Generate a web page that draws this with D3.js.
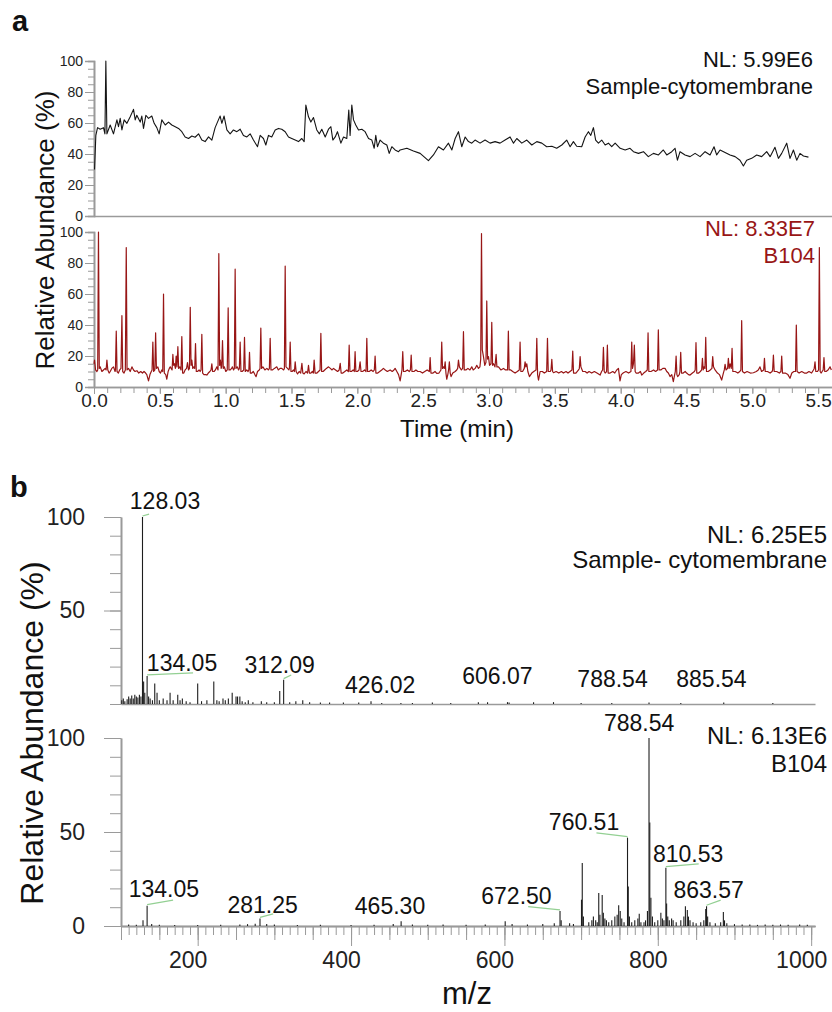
<!DOCTYPE html>
<html>
<head>
<meta charset="utf-8">
<script src="https://cdn.jsdelivr.net/npm/d3@7"></script>
<style>
  body { margin: 0; background: #fff; }
  text { font-family: "Liberation Sans", Arial, sans-serif; }
</style>
</head>
<body>
<svg id="fig" width="832" height="1012"></svg>
<script>

// ---- panel a : chromatograms, [time (min), relative abundance %] ----
let sampleTic = [
  [0.004,30],[0.014,52],[0.027,57],[0.047,56],[0.072,57],[0.083,53],[0.090,100],[0.098,53],[0.123,58.7],[0.148,53],
  [0.174,62],[0.186,57.6],[0.199,63],[0.212,55.5],[0.229,62],[0.250,59.8],[0.275,64],[0.300,68.8],[0.313,62],[0.325,65],
  [0.351,60.6],[0.363,64.5],[0.376,56.5],[0.394,65],[0.414,63],[0.439,64.5],[0.457,59.8],[0.477,57],[0.495,53],[0.515,62],
  [0.541,58.7],[0.566,60.6],[0.591,58.7],[0.617,57.6],[0.642,56.5],[0.667,54.4],[0.692,51],[0.718,50],[0.743,51.6],[0.768,50.8],
  [0.794,53],[0.819,49],[0.844,48],[0.870,51],[0.895,49],[0.920,57],[0.945,62],[0.958,64.5],[0.971,59.8],[0.988,64.5],
  [1.009,55.5],[1.034,53],[1.059,55.5],[1.085,54.4],[1.110,56],[1.135,52],[1.161,51],[1.186,53],[1.211,49],[1.242,44.7],
  [1.262,52],[1.287,50],[1.305,45.8],[1.325,52],[1.350,51],[1.376,55.5],[1.401,56.5],[1.426,56],[1.452,54.4],[1.477,51],
  [1.502,50],[1.528,49],[1.553,48],[1.578,50],[1.596,48],[1.609,71.6],[1.629,64],[1.647,60.6],[1.667,63.5],[1.692,55.5],
  [1.712,53],[1.730,56],[1.756,51],[1.781,56],[1.799,57.6],[1.814,49],[1.832,51],[1.849,54.4],[1.875,47],[1.895,51],
  [1.920,50],[1.935,68.4],[1.945,52],[1.958,71.6],[1.971,62],[1.988,58.7],[2.009,55.5],[2.034,56],[2.059,54.4],[2.085,50],
  [2.110,49],[2.128,43.7],[2.140,52],[2.153,44.7],[2.173,49],[2.198,47],[2.224,45.8],[2.242,40.4],[2.262,44.7],[2.287,42.6],
  [2.313,41.5],[2.325,42.6],[2.376,43.7],[2.426,42],[2.477,40.4],[2.540,35.7],[2.578,39.4],[2.616,44.7],[2.654,42.6],[2.692,47],
  [2.718,42.6],[2.743,50],[2.768,54.4],[2.793,44.7],[2.819,51],[2.844,48],[2.869,47],[2.894,49],[2.932,47],[2.970,49],
  [3.008,47],[3.046,48],[3.084,47],[3.122,49],[3.160,51],[3.186,47],[3.211,50],[3.249,47],[3.287,49],[3.325,45.8],
  [3.363,48],[3.401,47],[3.438,44.7],[3.477,45],[3.514,43.7],[3.553,45.8],[3.590,49],[3.616,44.7],[3.641,48],[3.666,45],
  [3.704,44.7],[3.730,51],[3.755,54.4],[3.773,52],[3.793,57],[3.810,49],[3.831,47],[3.856,49],[3.882,45.8],[3.907,47],
  [3.932,44.7],[3.958,47],[3.996,43.7],[4.034,42.6],[4.071,43.7],[4.097,41.5],[4.135,40.4],[4.173,41.5],[4.210,38.3],[4.249,40.4],
  [4.287,39.4],[4.324,42.6],[4.350,39.4],[4.388,41.5],[4.413,43.7],[4.431,36],[4.451,41.5],[4.489,39.4],[4.527,38.3],[4.565,40.4],
  [4.603,38.3],[4.641,41.5],[4.679,39.4],[4.709,44.7],[4.729,39.4],[4.755,42.6],[4.793,41],[4.831,39.4],[4.869,38.3],[4.906,36],
  [4.932,32.3],[4.957,36],[4.995,37.2],[5.033,39.4],[5.071,38.3],[5.109,41.5],[5.135,38.3],[5.172,44.3],[5.198,37.2],[5.223,40.4],
  [5.261,47],[5.286,37.2],[5.312,42.6],[5.337,36],[5.362,40.4],[5.388,38.7],[5.426,38]
];

let b104Tic = [
  [0.000,15],[0.004,17.4],[0.012,11],[0.022,10],[0.028,11],[0.034,100],[0.040,12],[0.047,13],[0.060,10],[0.072,11],
  [0.085,12],[0.092,11],[0.098,17.4],[0.105,11],[0.115,9],[0.123,10],[0.135,12],[0.148,13],[0.160,10],[0.163,11],
  [0.169,36],[0.175,10],[0.185,9],[0.195,11],[0.205,12],[0.212,46],[0.218,10],[0.228,9],[0.238,11],[0.245,90],
  [0.251,11],[0.262,12],[0.275,10],[0.288,13],[0.300,11],[0.312,10],[0.326,10.5],[0.340,9],[0.355,10],[0.368,9],
  [0.380,10],[0.392,9],[0.401,8],[0.414,4],[0.425,8],[0.435,10],[0.441,11],[0.447,29],[0.453,10],[0.462,11],
  [0.468,35],[0.474,12],[0.485,13],[0.495,10],[0.505,9],[0.515,11],[0.522,10],[0.528,60],[0.534,9],[0.545,8],
  [0.553,5],[0.563,10],[0.572,12],[0.579,13],[0.593,11],[0.599,21],[0.605,14],[0.611,15],[0.618,12],[0.624,20],
  [0.630,13],[0.637,26],[0.643,12],[0.652,13],[0.661,11],[0.667,32.5],[0.673,9],[0.682,9],[0.692,11],[0.703,12],
  [0.710,15.7],[0.718,11],[0.725,12],[0.731,51.4],[0.737,14],[0.743,17.4],[0.750,12],[0.758,13],[0.765,12],[0.771,28],
  [0.777,10],[0.786,10],[0.798,11],[0.806,10],[0.813,11],[0.819,34],[0.825,9],[0.835,8],[0.848,8],[0.857,7.7],
  [0.868,9],[0.880,10],[0.889,11],[0.895,15],[0.901,10],[0.912,10],[0.922,11],[0.933,13],[0.942,11],[0.948,86],
  [0.954,14],[0.960,17.4],[0.966,12],[0.970,13],[0.976,30],[0.982,12],[0.990,13],[1.001,10],[1.012,11],[1.019,51],
  [1.025,11],[1.035,11],[1.045,12],[1.051,13],[1.060,11],[1.066,12],[1.072,76],[1.078,12],[1.088,13],[1.098,11],
  [1.104,12],[1.110,29],[1.116,10],[1.125,10],[1.137,11],[1.143,32],[1.149,10],[1.160,11],[1.170,10],[1.176,11],
  [1.181,22.4],[1.187,9],[1.198,9],[1.210,10],[1.222,8],[1.231,6.7],[1.242,10],[1.255,11],[1.261,12],[1.267,38],
  [1.273,12],[1.283,13],[1.298,11],[1.313,12],[1.325,11],[1.332,12],[1.338,31.4],[1.344,11],[1.355,11],[1.370,12],
  [1.388,13],[1.400,11],[1.413,12],[1.426,12],[1.440,11],[1.446,12],[1.452,78],[1.458,13],[1.470,12],[1.480,11],
  [1.484,12],[1.490,29],[1.496,10],[1.505,10],[1.515,11],[1.522,10],[1.528,16.3],[1.535,10],[1.546,8.4],[1.558,10],
  [1.570,9],[1.579,15.3],[1.586,9],[1.596,8.4],[1.610,10],[1.622,9],[1.629,14],[1.636,9],[1.647,9],[1.658,10],
  [1.666,9],[1.672,17.4],[1.679,9],[1.693,9],[1.705,10],[1.717,11],[1.723,34.6],[1.729,10],[1.740,10],[1.752,11],
  [1.765,12],[1.781,13],[1.795,12],[1.808,11],[1.819,12],[1.835,11],[1.850,10],[1.862,11],[1.870,15.3],[1.877,9],
  [1.890,9],[1.905,10],[1.920,11],[1.932,10],[1.938,27],[1.944,10],[1.955,10],[1.968,11],[1.977,10],[1.983,22.8],
  [1.989,10],[2.000,10],[2.013,11],[2.021,16.3],[2.028,10],[2.040,10],[2.055,11],[2.066,10],[2.072,31.4],[2.078,10],
  [2.090,10],[2.105,11],[2.120,10],[2.129,11],[2.135,20],[2.141,9],[2.155,9],[2.170,10],[2.185,11],[2.198,12],
  [2.212,11],[2.228,10],[2.249,11],[2.265,10],[2.278,11],[2.287,12],[2.300,10],[2.313,8],[2.325,3.9],[2.333,8],
  [2.339,11],[2.345,22.8],[2.351,10],[2.363,10],[2.380,11],[2.395,10],[2.403,11],[2.409,20.6],[2.415,10],[2.430,10],
  [2.445,11],[2.460,10],[2.477,10],[2.495,9],[2.512,10],[2.530,11],[2.547,10],[2.553,19],[2.559,9],[2.575,9],
  [2.590,10],[2.603,8.8],[2.620,9],[2.635,11],[2.641,29],[2.647,12],[2.654,13],[2.661,12],[2.667,16.3],[2.673,9],
  [2.679,5],[2.687,8],[2.693,11],[2.699,16.3],[2.705,9],[2.712,6.7],[2.725,9],[2.743,10],[2.755,11],[2.762,12],
  [2.768,17.4],[2.775,13],[2.790,11],[2.800,12],[2.806,35.7],[2.812,11],[2.825,11],[2.840,12],[2.855,11],[2.869,13],
  [2.880,11],[2.895,12],[2.907,14],[2.920,12],[2.931,13],[2.937,18],[2.943,99],[2.949,24],[2.958,19.6],[2.968,14],
  [2.977,16],[2.983,55.5],[2.989,18],[2.996,19.6],[3.004,14],[3.015,15],[3.021,41.7],[3.027,14],[3.034,15],[3.045,13],
  [3.054,21],[3.060,13],[3.072,13],[3.090,11],[3.110,12],[3.125,11],[3.141,11],[3.147,36],[3.153,11],[3.165,11],
  [3.180,10],[3.198,9],[3.215,10],[3.230,11],[3.236,29],[3.242,10],[3.255,10],[3.268,12],[3.274,16.3],[3.280,13],
  [3.287,15],[3.295,10],[3.307,6.7],[3.325,9],[3.340,10],[3.357,11],[3.363,31.4],[3.369,8],[3.376,4.5],[3.388,10],
  [3.405,10],[3.420,9],[3.438,10],[3.444,31.4],[3.450,10],[3.465,10],[3.471,11],[3.477,17.8],[3.483,10],[3.490,9.2],
  [3.510,10],[3.530,9],[3.550,10],[3.565,9],[3.585,10],[3.600,9],[3.615,10],[3.630,11],[3.636,23.2],[3.642,9],
  [3.660,9],[3.680,11],[3.686,12],[3.692,19.6],[3.698,13],[3.712,10],[3.730,10],[3.745,9],[3.760,10],[3.780,9],
  [3.800,10],[3.820,9],[3.844,7.7],[3.855,10],[3.863,11],[3.869,25.6],[3.875,10],[3.882,9],[3.893,10],[3.899,27],
  [3.905,9],[3.920,9],[3.940,10],[3.955,9],[3.970,11],[3.983,12],[3.989,8],[3.995,4],[4.005,8],[4.021,9.2],
  [4.040,10],[4.060,9],[4.078,10],[4.084,29],[4.090,12],[4.097,15],[4.104,27],[4.110,10],[4.117,9],[4.135,9],
  [4.150,10],[4.160,7.7],[4.175,9],[4.190,10],[4.202,11],[4.208,35],[4.214,10],[4.230,10],[4.250,11],[4.265,10],
  [4.280,11],[4.286,36.8],[4.292,11],[4.305,11],[4.320,12],[4.337,12],[4.350,10],[4.362,9],[4.375,6.7],[4.388,8],
  [4.400,3.4],[4.410,8],[4.415,10],[4.421,20],[4.427,8],[4.433,6.7],[4.445,8],[4.450,10],[4.456,22.4],[4.462,9],
  [4.475,9],[4.490,10],[4.501,9],[4.515,8],[4.527,7.7],[4.545,9],[4.560,10],[4.566,11],[4.572,28.6],[4.578,9],
  [4.592,9],[4.605,10],[4.615,11],[4.621,18.5],[4.627,11],[4.633,13],[4.640,12],[4.646,32],[4.652,10],[4.665,10],
  [4.680,11],[4.693,12],[4.699,19.6],[4.705,13],[4.717,11],[4.735,9],[4.750,8],[4.767,4.5],[4.780,9],[4.787,11],
  [4.793,14.6],[4.800,11],[4.812,12],[4.818,18.5],[4.824,12],[4.831,15],[4.840,12],[4.846,25],[4.852,10],[4.870,10],
  [4.890,9],[4.905,10],[4.913,11],[4.919,42.8],[4.925,10],[4.940,9],[4.960,10],[4.985,9],[5.008,9.2],[5.030,10],
  [5.045,11],[5.058,13],[5.070,10],[5.086,11],[5.092,18.5],[5.098,10],[5.115,10],[5.135,9],[5.150,10],[5.154,11],
  [5.160,20.6],[5.166,10],[5.185,10],[5.205,9],[5.217,10],[5.223,20],[5.229,9],[5.250,9],[5.270,8],[5.286,5.6],
  [5.300,9],[5.315,10],[5.328,10],[5.334,40],[5.340,10],[5.355,9],[5.375,10],[5.395,9],[5.413,9],[5.430,10],
  [5.450,9],[5.464,11],[5.470,12],[5.476,16.3],[5.482,10],[5.495,10],[5.503,11],[5.509,90],[5.515,10],[5.522,9],
  [5.530,10],[5.538,11],[5.544,19],[5.550,10],[5.560,10],[5.575,11],[5.590,13],[5.600,11]
];

let timeTicks = [0.0, 0.5, 1.0, 1.5, 2.0, 2.5, 3.0, 3.5, 4.0, 4.5, 5.0, 5.5];
let pctTicksA = [0, 20, 40, 60, 80, 100];

// ---- panel b : mass spectra, [m/z, relative abundance %] ----
let sampleMs = [
  [101,2],[103,3],[105,1.5],[108,2.5],[110,4],[112,3],[114,4.5],[116,3],[118,5],[120,4],[122,3.5],[124,5],[126,4],
  [128.03,100],[129.5,12],[131,6],[134.05,15],[136,4],[138,3],[141,2],[144,11],[147,6],[150,2],[155,3],[160,2],
  [164,6],[168,2],[174,5],[177,2],[180,3],[185,1.5],[190,1],[200,11],[205,1.5],[212,2],[221,12],[225,2],[228,1.5],
  [233,3],[236,2],[240,3],[245,6],[250,4],[252,4],[255,4],[258,1.5],[262,1],[266,2],[272,1],[283,1.5],[290,1],
  [300,1],[307,7],[312.09,13],[320,1],[328,1.5],[337,2],[346,1],[360,0.8],[372,0.8],[390,0.8],[410,0.8],[426.02,1.5],
  [440,0.6],[465,0.6],[480,0.6],[506,0.8],[530,0.6],[566,1],[578,1],[604,1],[606.07,0.8],[638,1],[664,1],[700,0.5],
  [740,0.5],[788.54,0.8],[830,0.5],[886,0.8],[950,0.5]
];

let b104Ms = [
  [110,0.8],[120,0.6],[128.7,3],[134.05,10.8],[140,1],[150,0.6],[170,0.5],[200,0.5],[230,0.6],[255,0.8],[265,1],
  [275,1.2],[281.25,4],[290,1],[300,0.8],[330,0.5],[360,0.6],[400,0.5],[430,0.6],[455,1],[465.30,2.5],[480,0.8],
  [500,0.6],[520,0.8],[550,0.6],[575,0.8],[601,2.5],[610,1],[630,0.8],[650,1],[665,1.5],[672.50,8],[674,3],[685,1.5],
  [690,1],[700.5,14],[701.5,33.5],[703,5],[710,2],[714,3],[716,5],[719,3],[721,2],[723,17.5],[724.5,6],[727.5,16.5],
  [729,7],[731,4],[733,3],[736,2],[740,3],[744,5],[747,6],[749,11],[751,8],[753,4],[756,2],[760.51,47],[761.5,21],
  [763,5],[766,2],[770,3],[774,4],[775.8,6.5],[778,2],[782,2],[784,3],[786.5,8],[788.54,100],[789.55,55],[791,15],
  [793,5],[796,2],[800,3],[804,7],[806,4],[808,3],[810.53,31],[811.5,12],[813,5],[815,3],[818,4],[820,3],[824,2],
  [830,3],[834,5],[836,10.5],[838.5,8.5],[840,5],[842,3],[846,2],[850,1.5],[856,2],[860,3],[862.5,9],[863.57,10.5],
  [865,5],[868,2],[875,1.5],[882,2],[885.5,7.5],[887,3],[890,1.5],[900,1],[910,0.8],[920,0.8],[930,0.6],[940,0.8],
  [950,0.6],[960,0.8],[970,0.6],[985,0.8],[995,0.6]
];

let mzTicks = [200, 400, 600, 800, 1000];

// peak labels : text, peak m/z, label anchor [m/z, %], leader end [m/z, %] (null = no leader)
let sampleLabels = [
  ["128.03", 128.03, [157.4, 104.3], [136.6, 101.6]],
  ["134.05", 134.05, [179.6, 17.6], [194.0, 16.6]],
  ["312.09", 312.09, [306.9, 16.7], [322.0, 15.5]],
  ["426.02", 426.02, [438.0, 5.9], null],
  ["606.07", 606.07, [590.9, 10.7], null],
  ["788.54", 788.54, [741.0, 9.3], null],
  ["885.54", 885.54, [870.0, 9.3], null]
];
let b104Labels = [
  ["134.05", 134.05, [156.0, 15.4], [167.9, 13.8]],
  ["281.25", 281.25, [284.7, 6.9], [298.4, 6.4]],
  ["465.30", 465.30, [450.8, 6.4], null],
  ["672.50", 672.50, [615.7, 11.7], [631.0, 10.3]],
  ["760.51", 760.51, [703.8, 51.0], [720.0, 49.5]],
  ["788.54", 788.54, [775.7, 103.9], null],
  ["810.53", 810.53, [839.5, 34.2], [853.3, 33.0]],
  ["863.57", 863.57, [866.3, 14.9], [882.0, 13.8]]
];

let red = "#981616";
let axisGray = "#9a9a9a";

let svg = d3.select("#fig");
svg.append("rect").attr("width", 832).attr("height", 1012).attr("fill", "#fff");

function styleAxis(g, fs) {
  g.select(".domain").attr("stroke", axisGray).attr("stroke-width", 1.6);
  g.selectAll(".tick line").attr("stroke", axisGray).attr("stroke-width", 1);
  g.selectAll(".tick text").attr("fill", "#222").style("font-size", fs + "px")
    .style("font-family", '"Liberation Sans", Arial, sans-serif');
}

// ================= panel a =================
let xT = d3.scaleLinear().domain([0, 5.605]).range([94, 832]);
let yA1 = d3.scaleLinear().domain([0, 100]).range([216, 61]);
let yA2 = d3.scaleLinear().domain([0, 100]).range([387, 232]);

function chromAxisY(y) {
  let minor = svg.append("g").attr("transform", "translate(94,0)")
    .call(d3.axisLeft(y).tickValues(d3.range(0, 101, 5)).tickSize(6).tickFormat(""));
  styleAxis(minor, 14);
  let major = svg.append("g").attr("transform", "translate(94,0)")
    .call(d3.axisLeft(y).tickValues(pctTicksA).tickSize(9).tickPadding(2));
  styleAxis(major, 14);
}
chromAxisY(yA1);
chromAxisY(yA2);

// top chromatogram x baseline only
let xTop = svg.append("g").attr("transform", "translate(0,216)")
  .call(d3.axisBottom(xT).tickValues([]).tickSizeOuter(0));
styleAxis(xTop, 14);

let xMinor = svg.append("g").attr("transform", "translate(0,387)")
  .call(d3.axisBottom(xT).tickValues(d3.range(0, 56).map(d => d / 10)).tickSize(6).tickFormat("").tickSizeOuter(0));
styleAxis(xMinor, 19);
let xMajor = svg.append("g").attr("transform", "translate(0,387)")
  .call(d3.axisBottom(xT).tickValues(timeTicks).tickSize(7).tickPadding(0).tickFormat(d3.format(".1f")).tickSizeOuter(0));
styleAxis(xMajor, 19);

let lineA1 = d3.line().x(d => xT(d[0])).y(d => yA1(d[1]));
let lineA2 = d3.line().x(d => xT(d[0])).y(d => yA2(d[1]));

svg.append("path").datum(sampleTic).attr("d", lineA1)
  .attr("fill", "none").attr("stroke", "#141414").attr("stroke-width", 1.1).attr("stroke-linejoin", "round");
svg.append("path").datum(b104Tic).attr("d", lineA2)
  .attr("fill", "none").attr("stroke", red).attr("stroke-width", 1.2).attr("stroke-linejoin", "round");

function txt(x, y, s, opt) {
  opt = opt || {};
  return svg.append("text").attr("x", x).attr("y", y).text(s)
    .attr("text-anchor", opt.anchor || "start")
    .attr("fill", opt.fill || "#111")
    .attr("font-weight", opt.bold ? "bold" : "normal")
    .style("font-size", (opt.size || 20) + "px");
}

txt(12, 31, "a", {bold: true, size: 29});
txt(813, 67, "NL: 5.99E6", {anchor: "end", size: 22});
txt(813, 94, "Sample-cytomembrane", {anchor: "end", size: 22});
txt(815, 236, "NL: 8.33E7", {anchor: "end", size: 22, fill: red});
txt(815, 263, "B104", {anchor: "end", size: 22, fill: red});
txt(457, 437, "Time (min)", {anchor: "middle", size: 24});
txt(0, 0, "Relative Abundance (%)", {anchor: "middle", size: 26})
  .attr("transform", "translate(54,230) rotate(-90)");

// ================= panel b =================
let xM = d3.scaleLinear().domain([100, 1005]).range([121, 815]);
let yB1 = d3.scaleLinear().domain([0, 100]).range([704, 517]);
let yB2 = d3.scaleLinear().domain([0, 100]).range([926, 738]);

function specAxisY(y, labels) {
  let minor = svg.append("g").attr("transform", "translate(121,0)")
    .call(d3.axisLeft(y).tickValues(d3.range(0, 101, 10)).tickSize(11).tickFormat("").tickSizeOuter(0));
  styleAxis(minor, 23);
  let major = svg.append("g").attr("transform", "translate(121,0)")
    .call(d3.axisLeft(y).tickValues(labels).tickSize(17).tickPadding(19).tickSizeOuter(0));
  styleAxis(major, 23);
}
specAxisY(yB1, [50, 100]);
specAxisY(yB2, [0, 50, 100]);

let xB1 = svg.append("g").attr("transform", "translate(0,704)")
  .call(d3.axisBottom(xM).tickValues([]).tickSizeOuter(0));
styleAxis(xB1, 23);

let mzMinor = svg.append("g").attr("transform", "translate(0,926)")
  .call(d3.axisBottom(xM).tickValues(d3.range(100, 1001, 10)).tickSize(9).tickFormat("").tickSizeOuter(0));
styleAxis(mzMinor, 23);
let mzMid = svg.append("g").attr("transform", "translate(0,926)")
  .call(d3.axisBottom(xM).tickValues(d3.range(100, 1001, 50)).tickSize(14).tickFormat("").tickSizeOuter(0));
styleAxis(mzMid, 23);
let mzMajor = svg.append("g").attr("transform", "translate(0,926)")
  .call(d3.axisBottom(xM).tickValues(mzTicks).tickSize(20).tickPadding(6).tickFormat(d3.format("d")).tickSizeOuter(0));
styleAxis(mzMajor, 23);
mzMajor.selectAll(".tick text").attr("dx", -10);

function sticks(data, y, color) {
  svg.append("g").selectAll("line").data(data).enter().append("line")
    .attr("x1", d => xM(d[0])).attr("x2", d => xM(d[0]))
    .attr("y1", y(0)).attr("y2", d => y(d[1]))
    .attr("stroke", color).attr("stroke-width", 1.1);
}
sticks(sampleMs, yB1, "#1e1e1e");
sticks(b104Ms, yB2, "#1e1e1e");

function peakLabels(list, data, y) {
  list.forEach(function(l) {
    let peak = data.find(d => d[0] == l[1]);
    if (l[3]) {
      svg.append("line")
        .attr("x1", xM(l[1])).attr("y1", y(peak[1]) - 1)
        .attr("x2", xM(l[3][0])).attr("y2", y(l[3][1]))
        .attr("stroke", "#93d093").attr("stroke-width", 1.3);
    }
    txt(xM(l[2][0]), y(l[2][1]), l[0], {anchor: "middle", size: 23, fill: "#111"});
  });
}
peakLabels(sampleLabels, sampleMs, yB1);
peakLabels(b104Labels, b104Ms, yB2);

txt(10, 497, "b", {bold: true, size: 29});
txt(827, 543, "NL: 6.25E5", {anchor: "end", size: 24});
txt(827, 568, "Sample- cytomembrane", {anchor: "end", size: 24});
txt(827, 744, "NL: 6.13E6", {anchor: "end", size: 24});
txt(827, 772, "B104", {anchor: "end", size: 24});
txt(467, 1004, "m/z", {anchor: "middle", size: 31});
txt(0, 0, "Relative Abundance (%)", {anchor: "middle", size: 32})
  .attr("transform", "translate(43,733) rotate(-90)");

</script>
</body>
</html>
